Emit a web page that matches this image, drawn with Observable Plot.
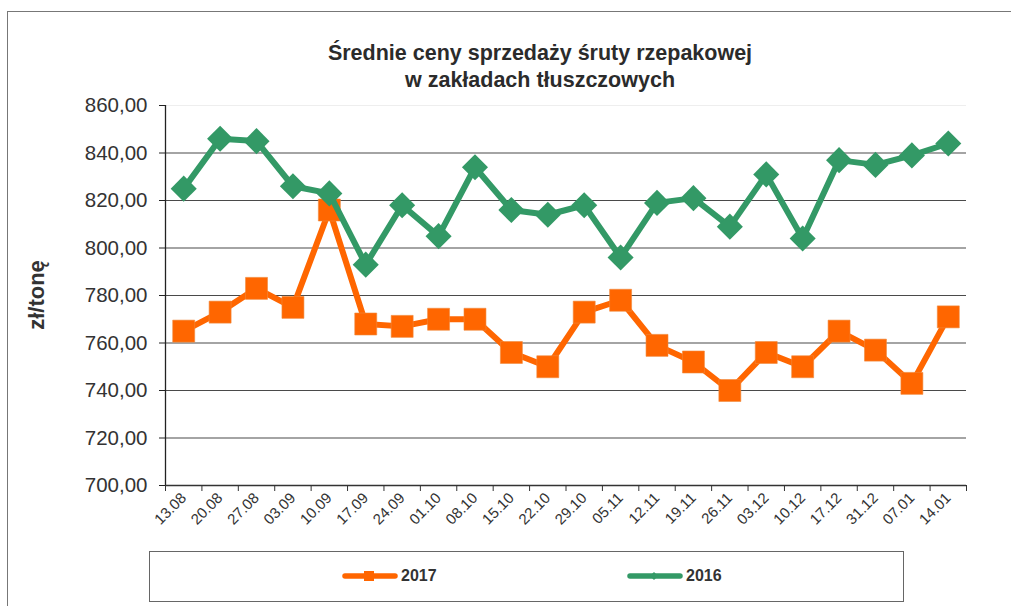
<!DOCTYPE html>
<html><head><meta charset="utf-8">
<script src="https://cdn.jsdelivr.net/npm/d3@7"></script>
<script src="https://cdn.jsdelivr.net/npm/@observablehq/plot@0.6"></script>
<style>
body{margin:0;background:#fff;font-family:"Liberation Sans",Arial,sans-serif;}
#wrap{position:relative;width:1011px;height:606px;overflow:hidden;background:#fff;}
#chart{position:absolute;left:0;top:0;}
#frame{position:absolute;left:7px;top:11px;width:1100px;height:700px;border-top:1.5px solid #777;border-left:1.5px solid #777;}
#title{position:absolute;left:240px;width:600px;top:40px;text-align:center;font-weight:bold;font-size:21.5px;line-height:27px;color:#2b2b2b;}
#ylabel{position:absolute;left:37px;top:295px;transform:translate(-50%,-50%) rotate(-90deg);font-weight:bold;font-size:22px;color:#333;white-space:nowrap;}
#legend{position:absolute;left:149px;top:551px;width:755px;height:51px;border:1.5px solid #666;box-sizing:border-box;}
.item{position:absolute;top:13px;display:flex;align-items:center;font-weight:bold;font-size:16px;color:#333;}
.item svg{margin-right:3px;}
</style></head><body>
<div id="wrap">
  <div id="frame"></div>
  <div id="chart"></div>
  <div id="title">Średnie ceny sprzedaży śruty rzepakowej<br>w zakładach tłuszczowych</div>
  <div id="ylabel">zł/tonę</div>
  <div id="legend"></div>
</div>
<script>
const dates = ["13.08","20.08","27.08","03.09","10.09","17.09","24.09","01.10","08.10","15.10","22.10","29.10","05.11","12.11","19.11","26.11","03.12","10.12","17.12","31.12","07.01","14.01"];
const values2017 = [765,773,783,775,816,768,767,770,770,756,750,773,778,759,752,740,756,750,765,757,743,771];
const values2016 = [825,846,845,826,823,793,818,805,834,816,814,818,796,819,821,809,831,804,837,835,839,844];
const seriesNames = ["2017","2016"];
const seriesColors = ["#FF6600","#339966"];
const yTicks = [700,720,740,760,780,800,820,840,860];
const gridTicks = [720,740,760,780,800,820,840];

const rows2017 = dates.map((d,i)=>({i, date:d, value:values2017[i]}));
const rows2016 = dates.map((d,i)=>({i, date:d, value:values2016[i]}));
const idx = d3.range(dates.length);
const bounds = d3.range(dates.length + 1).map(k => k - 0.5);

const diamond = {
  draw(ctx, size) {
    const h = Math.sqrt(size / 2);
    ctx.moveTo(0, -h); ctx.lineTo(h, 0); ctx.lineTo(0, h); ctx.lineTo(-h, 0); ctx.closePath();
  }
};

const chart = Plot.plot({
  width: 1011,
  height: 606,
  marginTop: 105,
  marginBottom: 121,
  marginLeft: 165,
  marginRight: 45,
  style: {fontFamily: '"Liberation Sans", Arial, sans-serif', color: "#333", background: "transparent"},
  x: {type: "linear", domain: [-0.5, dates.length - 0.5]},
  y: {domain: [700, 860]},
  marks: [
    Plot.ruleY(gridTicks, {stroke: "#4a4a4a", strokeWidth: 1.2}),
    Plot.ruleY([860], {stroke: "#eee", strokeWidth: 1}),
    Plot.axisY({ticks: yTicks, label: null, tickFormat: d => d.toFixed(2).replace(".", ","), tickSize: 6, tickPadding: 12, fontSize: 20.5, color: "#333", stroke: "#222"}),
    Plot.ruleX([-0.5], {stroke: "#222", strokeWidth: 1.3}),
    Plot.ruleY([700], {stroke: "#333", strokeWidth: 1.5}),
    Plot.axisX({ticks: bounds, label: null, tickFormat: () => "", tickSize: 6, stroke: "#333"}),
    Plot.axisX({ticks: idx, label: null, tickFormat: i => dates[i], tickSize: 0, tickRotate: -45, tickPadding: 10, fontSize: 15, color: "#333"}),
    Plot.line(rows2017, {x: "i", y: "value", stroke: seriesColors[0], strokeWidth: 6}),
    Plot.dot(rows2017, {x: "i", y: "value", symbol: "square", r: 12.4, fill: seriesColors[0], stroke: "#f08a3c", strokeWidth: 0.6}),
    Plot.line(rows2016, {x: "i", y: "value", stroke: seriesColors[1], strokeWidth: 6}),
    Plot.dot(rows2016, {x: "i", y: "value", symbol: diamond, r: 10.4, fill: seriesColors[1]})
  ]
});
document.getElementById("chart").appendChild(chart);

const legend = document.getElementById("legend");
const positions = [192, 477];
seriesNames.forEach((name, k) => {
  const item = document.createElement("div");
  item.className = "item";
  item.style.left = positions[k] + "px";
  const marker = k === 0
    ? `<rect x="22" y="6" width="10" height="10" fill="${seriesColors[0]}"/>`
    : `<path d="M27,7 L31,11 L27,15 L23,11 Z" fill="${seriesColors[1]}"/>`;
  item.innerHTML = `<svg width="56" height="22"><line x1="3" x2="53" y1="11" y2="11" stroke="${seriesColors[k]}" stroke-width="5.5" stroke-linecap="round"/>${marker}</svg><span>${name}</span>`;
  legend.appendChild(item);
});
</script>
</body></html>
